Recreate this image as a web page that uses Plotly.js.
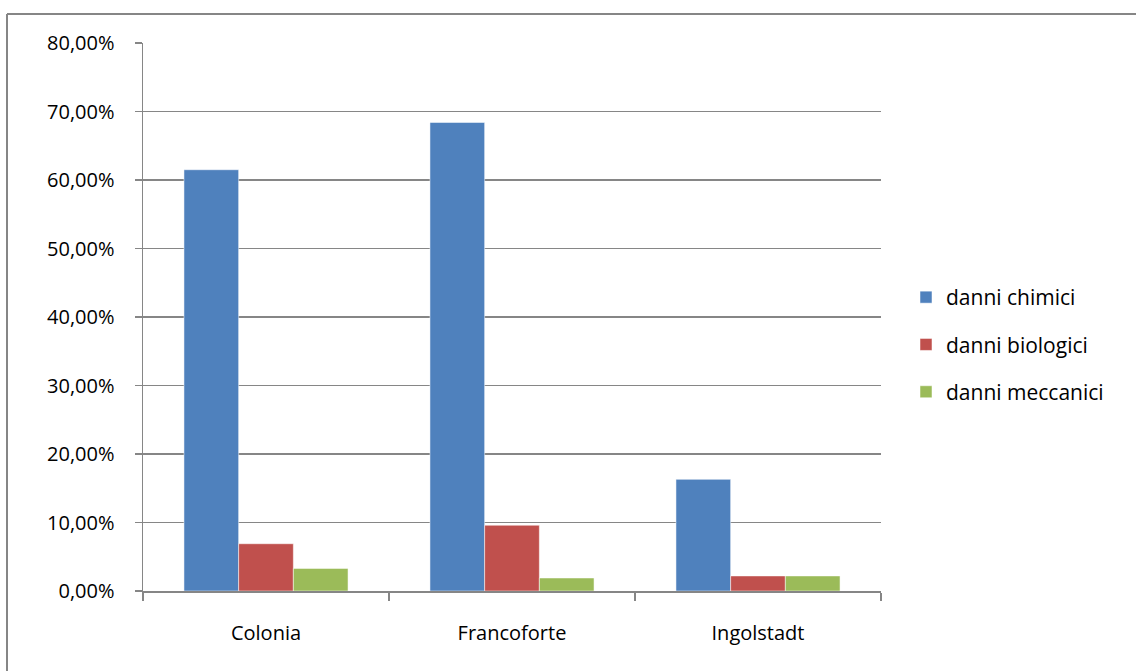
<!DOCTYPE html>
<html>
<head>
<meta charset="utf-8">
<script src="https://cdn.plot.ly/plotly-3.0.1.min.js"></script>
<style>html,body{margin:0;padding:0;background:#fff;}#chart{width:1136px;height:671px;}</style>
</head>
<body>
<div id="chart"></div>
<script>
const categories = ["Colonia", "Francoforte", "Ingolstadt"];
const seriesNames = ["danni chimici", "danni biologici", "danni meccanici"];
const chimici = [0.615, 0.684, 0.163];
const biologici = [0.069, 0.096, 0.022];
const meccanici = [0.033, 0.019, 0.022];
const colors = ["#4F81BD", "#C0504D", "#9BBB59"];

const allValues = [chimici, biologici, meccanici];
const traces = allValues.map((vals, i) => ({
  type: "bar",
  name: seriesNames[i],
  x: categories,
  y: vals,
  legendgroup: "g" + i,
  marker: {color: colors[i], line: {color: "rgba(255,255,255,0.5)", width: 1}},
  hoverinfo: "none"
}));

const W = 1136, H = 671;
const mL = 143, mR = 255, mT = 43, mB = 80;
const pw = W - mL - mR, ph = H - mT - mB;
const px = v => (v - mL) / pw;
const py = v => (H - mB - v) / ph;
const border = "#868686";

const font = {family: "'Open Sans', 'Noto Sans', sans-serif", size: 20, color: "#000"};
const legendFont = {family: "'Open Sans', 'Noto Sans', sans-serif", size: 21, color: "#000"};

const layout = {
  width: W, height: H,
  margin: {l: mL, r: mR, t: mT, b: mB, pad: 0},
  paper_bgcolor: "#fff",
  plot_bgcolor: "#fff",
  separators: ",.",
  font: font,
  barmode: "group",
  bargap: 0.333,
  bargroupgap: 0,
  showlegend: true,
  legend: {
    x: px(906), y: py(277), xanchor: "left", yanchor: "top",
    font: legendFont, traceorder: "grouped", tracegroupgap: 17,
    bgcolor: "rgba(0,0,0,0)", borderwidth: 0
  },
  xaxis: {
    type: "category",
    showline: true, linecolor: border, linewidth: 1.5,
    ticks: "outside", ticklen: 8, tickcolor: border, tickwidth: 1.5,
    tickson: "boundaries",
    showgrid: false, zeroline: false,
    tickfont: font,
    ticklabelstandoff: 23
  },
  yaxis: {
    range: [0, 0.8], dtick: 0.1, tick0: 0,
    tickformat: ".2%",
    showline: true, linecolor: border, linewidth: 1.5,
    ticks: "outside", ticklen: 7, tickcolor: border, tickwidth: 1.5,
    showgrid: true, gridcolor: border, gridwidth: 1.5,
    zeroline: false,
    tickfont: font,
    ticklabelstandoff: 16
  },
  shapes: [
    {type: "line", xref: "paper", yref: "paper", x0: px(7), x1: px(7), y0: py(H + 5), y1: py(14),
     line: {color: border, width: 2}},
    {type: "line", xref: "paper", yref: "paper", x0: px(7), x1: px(W + 5), y0: py(14), y1: py(14),
     line: {color: border, width: 2}}
  ]
};

Plotly.newPlot("chart", traces, layout, {staticPlot: true});
</script>
</body>
</html>
